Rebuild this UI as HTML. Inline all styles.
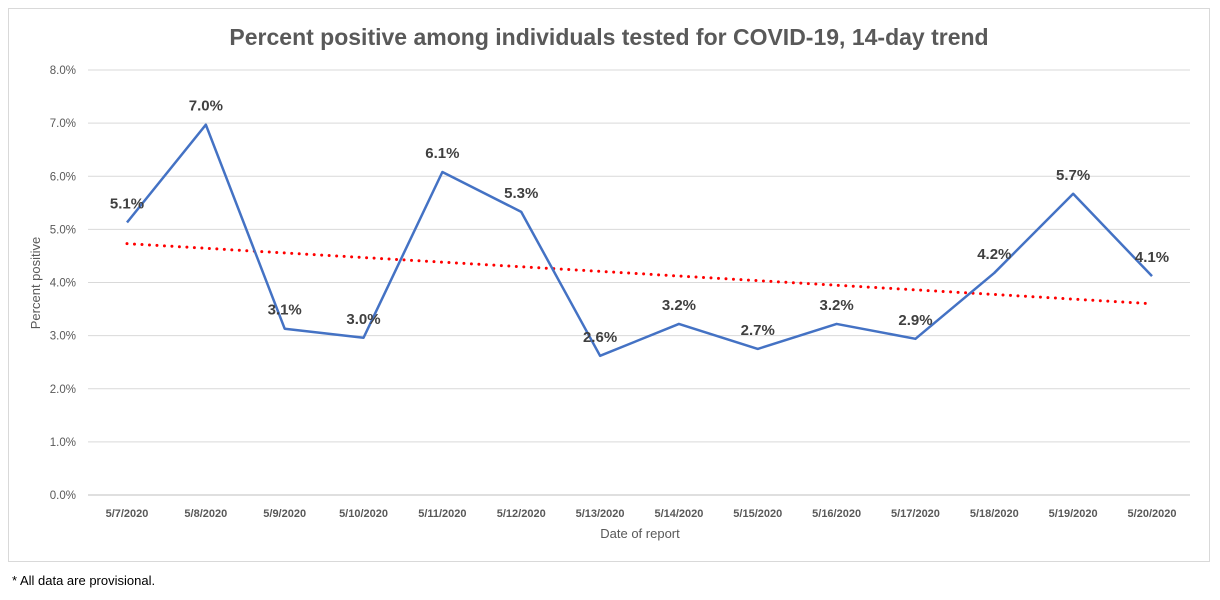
<!DOCTYPE html>
<html><head><meta charset="utf-8"><style>
body{margin:0;background:#fff;width:1220px;height:595px;overflow:hidden;font-family:"Liberation Sans",sans-serif}
</style></head><body>
<svg width="1220" height="595" xmlns="http://www.w3.org/2000/svg">
<rect x="8.5" y="8.5" width="1201" height="553" fill="#fff" stroke="#d9d9d9"/>
<text x="609" y="45" text-anchor="middle" font-size="23" font-weight="bold" fill="#595959">Percent positive among individuals tested for COVID-19, 14-day trend</text>
<g id="grid"></g><g id="ylab"></g><g id="xlab"></g><g id="marks"></g>
<text x="40" y="283" transform="rotate(-90 40 283)" text-anchor="middle" font-size="13" fill="#595959">Percent positive</text>
<text x="640" y="538" text-anchor="middle" font-size="13" fill="#595959">Date of report</text>
<text x="12" y="585" font-size="13" fill="#000">* All data are provisional.</text>
</svg>
<script>
const categories=["5/7/2020","5/8/2020","5/9/2020","5/10/2020","5/11/2020","5/12/2020","5/13/2020","5/14/2020","5/15/2020","5/16/2020","5/17/2020","5/18/2020","5/19/2020","5/20/2020"];
const values=[5.13,6.97,3.13,2.96,6.08,5.33,2.62,3.22,2.75,3.22,2.94,4.18,5.67,4.12];
const labels=["5.1%","7.0%","3.1%","3.0%","6.1%","5.3%","2.6%","3.2%","2.7%","3.2%","2.9%","4.2%","5.7%","4.1%"];
const yTicks=[0,1,2,3,4,5,6,7,8];
const NS="http://www.w3.org/2000/svg";
const x=i=>127+i*(1152-127)/13;
const y=v=>495-v*(495-70)/8;
function mk(t,a,p){const e=document.createElementNS(NS,t);for(const k in a)e.setAttribute(k,a[k]);document.getElementById(p).appendChild(e);return e;}
yTicks.forEach(t=>{
 const l=mk('line',{x1:88,x2:1190,y1:y(t),y2:y(t),stroke:t===0?'#bfbfbf':'#d9d9d9'},'grid');
 
 
 const tx=mk('text',{x:76,y:y(t)+4,'text-anchor':'end','font-size':11.5,fill:'#595959'},'ylab');tx.textContent=t.toFixed(1)+'%';
 
 
});
categories.forEach((c,i)=>{
 const tx=mk('text',{x:x(i),y:517,'text-anchor':'middle','font-size':11,'font-weight':'bold',fill:'#595959'},'xlab');tx.textContent=c;
 
 
});
const n=values.length;let sx=0,sy=0,sxy=0,sxx=0;
values.forEach((v,i)=>{sx+=i;sy+=v;sxy+=i*v;sxx+=i*i;});
const b=(n*sxy-sx*sy)/(n*sxx-sx*sx),a=(sy-b*sx)/n;
const tr=mk('line',{x1:x(0),y1:y(a),x2:x(n-1),y2:y(a+b*(n-1)),stroke:'#ff0000','stroke-width':3,'stroke-dasharray':'0 7.5','stroke-linecap':'round'},'marks');


const pl=mk('polyline',{points:values.map((v,i)=>x(i)+','+y(v)).join(' '),fill:'none',stroke:'#4472c4','stroke-width':2.5,'stroke-linejoin':'round'},'marks');


values.forEach((v,i)=>{
 const tx=mk('text',{x:x(i),y:y(v)-14,'text-anchor':'middle','font-size':15,'font-weight':'bold',fill:'#404040'},'marks');tx.textContent=labels[i];
 
 
});
</script>
</body></html>
